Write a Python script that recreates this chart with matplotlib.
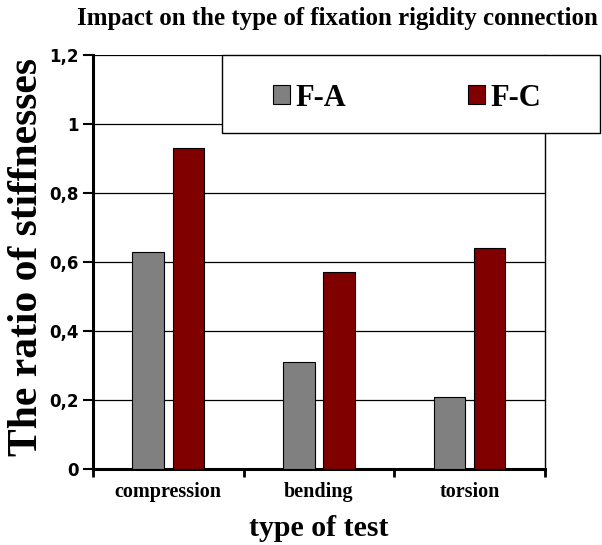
import numpy as np
import matplotlib.pyplot as plt
from matplotlib.patches import Rectangle
from matplotlib.ticker import FuncFormatter

categories = ["compression", "bending", "torsion"]
fa_values = [0.63, 0.31, 0.21]
fc_values = [0.93, 0.57, 0.64]
y_ticks = [0, 0.2, 0.4, 0.6, 0.8, 1.0, 1.2]

serif = "Liberation Serif"
W, H = 602, 545

fig = plt.figure(figsize=(6.02, 5.45), dpi=100)
ax = fig.add_axes([0.1545, 0.1394, 0.7505, 0.7596])

x = np.arange(len(categories)) + 0.5
w = 0.21
off = 0.133
ax.bar(x - off, fa_values, w, color="#808080", edgecolor="black", linewidth=0.8, label="F-A", zorder=3)
ax.bar(x + off, fc_values, w, color="#800000", edgecolor="black", linewidth=0.8, label="F-C", zorder=3)

ax.set_xlim(0, 3)
ax.set_ylim(0, 1.2)
ax.set_yticks(y_ticks)
ax.yaxis.set_major_formatter(FuncFormatter(lambda v, p: ("%g" % v).replace(".", ",")))
ax.set_xticks([0, 1, 2, 3])
ax.set_xticklabels([])
ax.set_xticks(x, minor=True)
ax.set_xticklabels(categories, minor=True, fontfamily=serif, fontweight="bold", fontsize=14.5)
ax.tick_params(axis="x", which="minor", length=0, pad=9)
ax.tick_params(axis="x", which="major", direction="out", length=6, width=2)
ax.tick_params(axis="y", direction="out", length=7, width=1.5, labelsize=12, pad=3)
for lab in ax.get_yticklabels():
    lab.set_fontweight("bold")

ax.grid(axis="y", color="black", linewidth=0.9, zorder=0)
ax.spines["left"].set_linewidth(2.2)
ax.spines["bottom"].set_linewidth(2.2)
ax.spines["top"].set_visible(False)
ax.spines["right"].set_linewidth(1.0)

fig.text(27 / W, 1 - 257 / H, "The ratio of stiffnesses", fontfamily=serif, fontweight="bold",
         fontsize=30, rotation=90, ha="center", va="center")
ax.set_xlabel("type of test", fontfamily=serif, fontweight="bold", fontsize=21.5, labelpad=10)
fig.text(0.561, 1 - 18 / H, "Impact on the type of fixation rigidity connection", fontfamily=serif,
         fontweight="bold", fontsize=17.9, ha="center", va="center")

# legend box
fig.patches.append(Rectangle((222 / W, 1 - 133 / H), 378 / W, 78 / H, transform=fig.transFigure,
                             facecolor="white", edgecolor="black", linewidth=1.0, zorder=4))
leg = fig.legend(loc="center left", bbox_to_anchor=(273 / W, 1 - 98 / H), ncol=2,
                 prop={"family": serif, "weight": "bold", "size": 22}, frameon=False,
                 handlelength=0.55, handleheight=0.55, handletextpad=0.17,
                 columnspacing=4.0, borderpad=0, borderaxespad=0)
leg.set_zorder(5)

fig.savefig("out.png", dpi=100)
